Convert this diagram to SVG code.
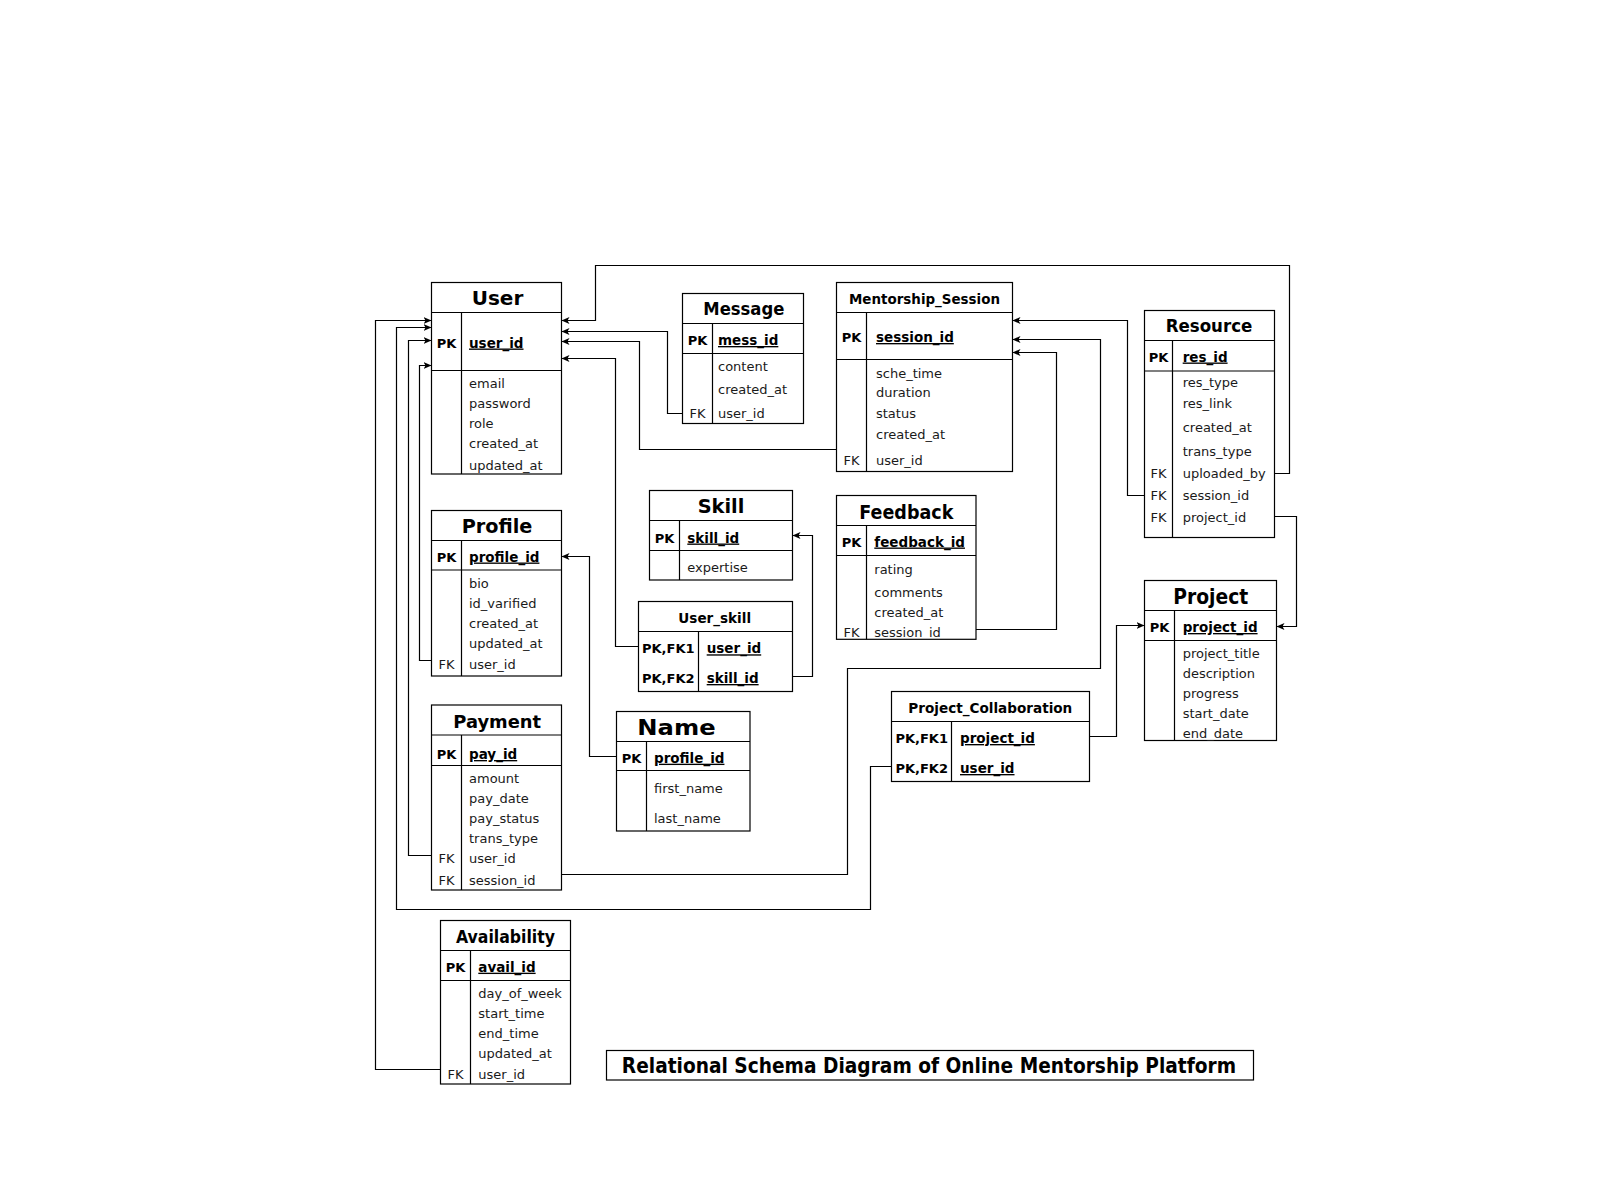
<svg xmlns="http://www.w3.org/2000/svg" width="1600" height="1201" viewBox="0 0 1600 1201">
<defs>
<marker id="arr" markerWidth="9" markerHeight="8" refX="8" refY="4" orient="auto" markerUnits="userSpaceOnUse">
<path d="M0,0.5 L8,4 L0,7.5 L2,4 z" fill="#000"/>
</marker>
<style>
.box{fill:#fff;stroke:#000;stroke-width:1.2}
.sep{stroke:#000;stroke-width:1.2;fill:none}
.hd{font-family:"DejaVu Sans","Liberation Sans",sans-serif;font-weight:bold;text-anchor:middle;fill:#000}
.key{font-family:"DejaVu Sans","Liberation Sans",sans-serif;font-weight:bold;font-size:13px;text-anchor:middle;fill:#000}
.pk{font-family:"DejaVu Sans","Liberation Sans",sans-serif;font-weight:bold;font-size:13.5px;text-decoration:underline;fill:#000}
.fd{font-family:"DejaVu Sans","Liberation Sans",sans-serif;font-size:13px;fill:#1a1a1a}
.fk{font-family:"DejaVu Sans","Liberation Sans",sans-serif;font-size:13px;text-anchor:middle;fill:#1a1a1a}
.cn{fill:none;stroke:#000;stroke-width:1.2;marker-end:url(#arr)}
</style>
</defs>
<rect width="1600" height="1201" fill="#fff"/>

<g id="connectors">
<path class="cn" d="M1274.5 473.5 H1289.5 V265.5 H595.5 V320.5 H561.5"/>
<path class="cn" d="M682.5 413.5 H667.5 V331.5 H561.5"/>
<path class="cn" d="M836.5 449.5 H639.5 V341.5 H561.5"/>
<path class="cn" d="M638.5 646.5 H615.5 V358.5 H561.5"/>
<path class="cn" d="M1144.5 495.5 H1127.5 V320.5 H1012.5"/>
<path class="cn" d="M561.5 874.5 H847.5 V668.5 H1100.5 V339.5 H1012.5"/>
<path class="cn" d="M976 629.5 H1056.5 V352.5 H1012.5"/>
<path class="cn" d="M1274.5 516.5 H1296.5 V626.5 H1276.5"/>
<path class="cn" d="M1089.5 736.5 H1116.5 V625.5 H1144.5"/>
<path class="cn" d="M891.5 766.5 H870.5 V909.5 H396.5 V327.5 H431.5"/>
<path class="cn" d="M431.5 660.5 H419.5 V365.5 H431.5"/>
<path class="cn" d="M431.5 855.5 H408.5 V340.5 H431.5"/>
<path class="cn" d="M440.5 1069.5 H375.5 V320.5 H431.5"/>
<path class="cn" d="M792.5 676.5 H812.5 V535.5 H792.5"/>
<path class="cn" d="M616.5 756.5 H589.5 V556.5 H561.5"/>
</g>

<g id="user">
<rect class="box" x="431.5" y="282.5" width="130" height="191.5"/>
<path class="sep" d="M431.5 312.5 H561.5 M431.5 370.5 H561.5 M461.5 312.5 V474"/>
<text class="hd" x="497.5" y="305" font-size="20" textLength="51.6" lengthAdjust="spacingAndGlyphs">User</text>
<text class="key" x="446.5" y="347.5">PK</text>
<text class="pk" x="469" y="347.5">user_id</text>
<text class="fd" x="469" y="388">email</text>
<text class="fd" x="469" y="407.7">password</text>
<text class="fd" x="469" y="428">role</text>
<text class="fd" x="469" y="448">created_at</text>
<text class="fd" x="469" y="470">updated_at</text>
</g>

<g id="message">
<rect class="box" x="682.5" y="293.5" width="121" height="130"/>
<path class="sep" d="M682.5 323.5 H803.5 M682.5 353.5 H803.5 M712.5 323.5 V423.5"/>
<text class="hd" x="743.8" y="315" font-size="18" textLength="81" lengthAdjust="spacingAndGlyphs">Message</text>
<text class="key" x="697.5" y="345">PK</text>
<text class="pk" x="718" y="345">mess_id</text>
<text class="fd" x="718" y="371">content</text>
<text class="fd" x="718" y="393.7">created_at</text>
<text class="fk" x="697.5" y="418.3">FK</text>
<text class="fd" x="718" y="418.3">user_id</text>
</g>

<g id="mentorship_session">
<rect class="box" x="836.5" y="282.5" width="176" height="189"/>
<path class="sep" d="M836.5 312.5 H1012.5 M836.5 359.5 H1012.5 M866.5 312.5 V471.5"/>
<text class="hd" x="924.5" y="304" font-size="14.5" textLength="151" lengthAdjust="spacingAndGlyphs">Mentorship_Session</text>
<text class="key" x="851.5" y="342">PK</text>
<text class="pk" x="876" y="342">session_id</text>
<text class="fd" x="876" y="378.3">sche_time</text>
<text class="fd" x="876" y="397">duration</text>
<text class="fd" x="876" y="417.7">status</text>
<text class="fd" x="876" y="439">created_at</text>
<text class="fk" x="851.5" y="465">FK</text>
<text class="fd" x="876" y="465">user_id</text>
</g>

<g id="resource">
<rect class="box" x="1144.5" y="310.5" width="130" height="227"/>
<path class="sep" d="M1144.5 340.5 H1274.5 M1144.5 371 H1274.5 M1172.5 340.5 V537.5"/>
<text class="hd" x="1209" y="331.7" font-size="17" textLength="86.7" lengthAdjust="spacingAndGlyphs">Resource</text>
<text class="key" x="1158.5" y="361.5">PK</text>
<text class="pk" x="1182.7" y="361.5">res_id</text>
<text class="fd" x="1182.7" y="387.3">res_type</text>
<text class="fd" x="1182.7" y="408.3">res_link</text>
<text class="fd" x="1182.7" y="431.7">created_at</text>
<text class="fd" x="1182.7" y="456">trans_type</text>
<text class="fk" x="1158.5" y="478.3">FK</text>
<text class="fd" x="1182.7" y="478.3">uploaded_by</text>
<text class="fk" x="1158.5" y="500">FK</text>
<text class="fd" x="1182.7" y="500">session_id</text>
<text class="fk" x="1158.5" y="521.7">FK</text>
<text class="fd" x="1182.7" y="521.7">project_id</text>
</g>

<g id="skill">
<rect class="box" x="649.5" y="490.5" width="143" height="89.5"/>
<path class="sep" d="M649.5 520.5 H792.5 M649.5 550.5 H792.5 M679.5 520.5 V580"/>
<text class="hd" x="721" y="513.3" font-size="20" textLength="46.7" lengthAdjust="spacingAndGlyphs">Skill</text>
<text class="key" x="664.5" y="542.5">PK</text>
<text class="pk" x="687.3" y="542.5">skill_id</text>
<text class="fd" x="687.3" y="572">expertise</text>
</g>

<g id="user_skill">
<rect class="box" x="638.5" y="601.5" width="154" height="90"/>
<path class="sep" d="M638.5 631.5 H792.5 M698.5 631.5 V691.5"/>
<text class="hd" x="714.7" y="623.3" font-size="14" textLength="72.7" lengthAdjust="spacingAndGlyphs">User_skill</text>
<text class="key" x="668.3" y="653.3">PK,FK1</text>
<text class="pk" x="706.7" y="653.3">user_id</text>
<text class="key" x="668.3" y="683">PK,FK2</text>
<text class="pk" x="706.7" y="683">skill_id</text>
</g>

<g id="feedback">
<rect class="box" x="836.5" y="495.5" width="139.5" height="143.8"/>
<path class="sep" d="M836.5 525.5 H976 M836.5 555.5 H976 M866.5 525.5 V639.3"/>
<text class="hd" x="906.3" y="519" font-size="20" textLength="94" lengthAdjust="spacingAndGlyphs">Feedback</text>
<text class="key" x="851.5" y="546.5">PK</text>
<text class="pk" x="874.3" y="546.5">feedback_id</text>
<text class="fd" x="874.3" y="574">rating</text>
<text class="fd" x="874.3" y="596.7">comments</text>
<text class="fd" x="874.3" y="617.3">created_at</text>
<text class="fk" x="851.5" y="637">FK</text>
<text class="fd" x="874.3" y="637">session_id</text>
</g>

<g id="profile">
<rect class="box" x="431.5" y="510.5" width="130" height="165.5"/>
<path class="sep" d="M431.5 540.5 H561.5 M431.5 570 H561.5 M461.5 540.5 V676"/>
<text class="hd" x="497" y="533.3" font-size="20" textLength="70.7" lengthAdjust="spacingAndGlyphs">Profile</text>
<text class="key" x="446.5" y="561.5">PK</text>
<text class="pk" x="469" y="561.5">profile_id</text>
<text class="fd" x="469" y="588.3">bio</text>
<text class="fd" x="469" y="608.3">id_varified</text>
<text class="fd" x="469" y="628.3">created_at</text>
<text class="fd" x="469" y="648.3">updated_at</text>
<text class="fk" x="446.5" y="669.3">FK</text>
<text class="fd" x="469" y="669.3">user_id</text>
</g>

<g id="payment">
<rect class="box" x="431.5" y="705" width="130" height="185"/>
<path class="sep" d="M431.5 735 H561.5 M431.5 765.5 H561.5 M461.5 735 V890"/>
<text class="hd" x="497.2" y="728.3" font-size="18" textLength="87.7" lengthAdjust="spacingAndGlyphs">Payment</text>
<text class="key" x="446.5" y="759">PK</text>
<text class="pk" x="469" y="759">pay_id</text>
<text class="fd" x="469" y="783.3">amount</text>
<text class="fd" x="469" y="803.3">pay_date</text>
<text class="fd" x="469" y="823.3">pay_status</text>
<text class="fd" x="469" y="843.3">trans_type</text>
<text class="fk" x="446.5" y="862.7">FK</text>
<text class="fd" x="469" y="862.7">user_id</text>
<text class="fk" x="446.5" y="885">FK</text>
<text class="fd" x="469" y="885">session_id</text>
</g>

<g id="name">
<rect class="box" x="616.5" y="711.5" width="133.5" height="119.5"/>
<path class="sep" d="M616.5 741.5 H750 M616.5 770.5 H750 M646.5 741.5 V831"/>
<text class="hd" x="676.5" y="735" font-size="21" textLength="78.3" lengthAdjust="spacingAndGlyphs">Name</text>
<text class="key" x="631.5" y="762.7">PK</text>
<text class="pk" x="654" y="762.7">profile_id</text>
<text class="fd" x="654" y="793.3">first_name</text>
<text class="fd" x="654" y="823.3">last_name</text>
</g>

<g id="project">
<rect class="box" x="1144.5" y="580.5" width="132" height="160"/>
<path class="sep" d="M1144.5 610.5 H1276.5 M1144.5 640.5 H1276.5 M1174.5 610.5 V740.5"/>
<text class="hd" x="1210.8" y="604" font-size="21" textLength="75" lengthAdjust="spacingAndGlyphs">Project</text>
<text class="key" x="1159.5" y="632">PK</text>
<text class="pk" x="1182.7" y="632">project_id</text>
<text class="fd" x="1182.7" y="658.3">project_title</text>
<text class="fd" x="1182.7" y="678.3">description</text>
<text class="fd" x="1182.7" y="698.3">progress</text>
<text class="fd" x="1182.7" y="718.3">start_date</text>
<text class="fd" x="1182.7" y="738.3">end_date</text>
</g>

<g id="project_collaboration">
<rect class="box" x="891.5" y="691.5" width="198" height="90"/>
<path class="sep" d="M891.5 721.5 H1089.5 M951.5 721.5 V781.5"/>
<text class="hd" x="990.3" y="712.7" font-size="14" textLength="164" lengthAdjust="spacingAndGlyphs">Project_Collaboration</text>
<text class="key" x="921.7" y="743">PK,FK1</text>
<text class="pk" x="960" y="743">project_id</text>
<text class="key" x="921.7" y="773">PK,FK2</text>
<text class="pk" x="960" y="773">user_id</text>
</g>

<g id="availability">
<rect class="box" x="440.5" y="920.5" width="130" height="163.5"/>
<path class="sep" d="M440.5 950.5 H570.5 M440.5 980.5 H570.5 M470.5 950.5 V1084"/>
<text class="hd" x="505.5" y="942.7" font-size="18" textLength="99" lengthAdjust="spacingAndGlyphs">Availability</text>
<text class="key" x="455.5" y="971.7">PK</text>
<text class="pk" x="478.3" y="971.7">avail_id</text>
<text class="fd" x="478.3" y="998.3">day_of_week</text>
<text class="fd" x="478.3" y="1018.3">start_time</text>
<text class="fd" x="478.3" y="1038.3">end_time</text>
<text class="fd" x="478.3" y="1058.3">updated_at</text>
<text class="fk" x="455.5" y="1079">FK</text>
<text class="fd" x="478.3" y="1079">user_id</text>
</g>

<g id="title">
<rect class="box" x="606.5" y="1050.5" width="647" height="29.5"/>
<text class="hd" x="929" y="1073.3" font-size="22" textLength="614.3" lengthAdjust="spacingAndGlyphs">Relational Schema Diagram of Online Mentorship Platform</text>
</g>
</svg>
